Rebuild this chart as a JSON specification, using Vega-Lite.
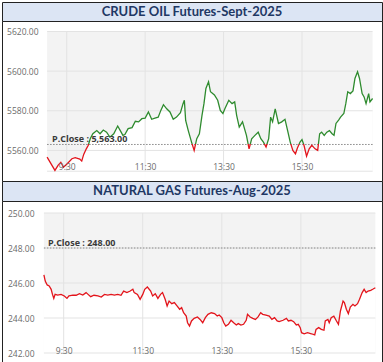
{
  "$schema": "https://vega.github.io/schema/vega-lite/v6.json",
  "padding": {"left": 1, "top": 1, "right": 1, "bottom": 0},
  "spacing": 0,
  "bounds": "flush",
  "background": "white",
  "config": {
    "view": {"stroke": null},
    "axis": {"grid": false, "ticks": false, "domain": false, "title": null, "labelFont": "Open Sans", "labelFontSize": 8.5, "labelColor": "#6b6b6b"},
    "concat": {"spacing": 0}
  },
  "datasets": {
    "crude": [
      {"t":"2025-08-01T09:00","p":5556.6},{"t":"2025-08-01T09:12","p":5549.9},{"t":"2025-08-01T09:17","p":5552.6},{"t":"2025-08-01T09:21","p":5554.0},{"t":"2025-08-01T09:25","p":5551.5},{"t":"2025-08-01T09:30","p":5553.0},{"t":"2025-08-01T09:38","p":5555.8},{"t":"2025-08-01T09:43","p":5556.3},{"t":"2025-08-01T09:50","p":5555.6},{"t":"2025-08-01T09:53","p":5554.6},{"t":"2025-08-01T09:56","p":5558.0},{"t":"2025-08-01T10:00","p":5560.8},{"t":"2025-08-01T10:03","p":5562.6},{"t":"2025-08-01T10:06","p":5565.9},{"t":"2025-08-01T10:10","p":5568.4},{"t":"2025-08-01T10:16","p":5570.0},{"t":"2025-08-01T10:21","p":5568.4},{"t":"2025-08-01T10:26","p":5570.3},{"t":"2025-08-01T10:31","p":5569.2},{"t":"2025-08-01T10:36","p":5566.7},{"t":"2025-08-01T10:42","p":5568.4},{"t":"2025-08-01T10:48","p":5572.3},{"t":"2025-08-01T10:52","p":5570.0},{"t":"2025-08-01T10:56","p":5567.6},{"t":"2025-08-01T10:59","p":5568.0},{"t":"2025-08-01T11:04","p":5571.0},{"t":"2025-08-01T11:10","p":5571.5},{"t":"2025-08-01T11:15","p":5574.7},{"t":"2025-08-01T11:20","p":5574.4},{"t":"2025-08-01T11:25","p":5576.0},{"t":"2025-08-01T11:30","p":5576.3},{"t":"2025-08-01T11:35","p":5579.4},{"t":"2025-08-01T11:40","p":5575.7},{"t":"2025-08-01T11:45","p":5576.3},{"t":"2025-08-01T11:50","p":5576.8},{"t":"2025-08-01T11:54","p":5580.2},{"t":"2025-08-01T11:58","p":5583.1},{"t":"2025-08-01T12:03","p":5581.0},{"t":"2025-08-01T12:08","p":5579.4},{"t":"2025-08-01T12:13","p":5575.7},{"t":"2025-08-01T12:18","p":5576.8},{"t":"2025-08-01T12:24","p":5579.0},{"t":"2025-08-01T12:28","p":5583.6},{"t":"2025-08-01T12:30","p":5585.3},{"t":"2025-08-01T12:32","p":5575.1},{"t":"2025-08-01T12:36","p":5570.0},{"t":"2025-08-01T12:41","p":5564.2},{"t":"2025-08-01T12:45","p":5560.0},{"t":"2025-08-01T12:49","p":5565.9},{"t":"2025-08-01T12:53","p":5568.4},{"t":"2025-08-01T12:57","p":5577.7},{"t":"2025-08-01T13:00","p":5583.6},{"t":"2025-08-01T13:03","p":5591.3},{"t":"2025-08-01T13:07","p":5594.6},{"t":"2025-08-01T13:10","p":5589.6},{"t":"2025-08-01T13:16","p":5588.0},{"t":"2025-08-01T13:21","p":5585.3},{"t":"2025-08-01T13:25","p":5580.2},{"t":"2025-08-01T13:29","p":5578.6},{"t":"2025-08-01T13:32","p":5581.0},{"t":"2025-08-01T13:38","p":5585.3},{"t":"2025-08-01T13:43","p":5583.6},{"t":"2025-08-01T13:47","p":5584.5},{"t":"2025-08-01T13:50","p":5577.7},{"t":"2025-08-01T13:54","p":5571.8},{"t":"2025-08-01T13:59","p":5574.4},{"t":"2025-08-01T14:05","p":5567.6},{"t":"2025-08-01T14:09","p":5560.8},{"t":"2025-08-01T14:13","p":5565.9},{"t":"2025-08-01T14:18","p":5567.6},{"t":"2025-08-01T14:23","p":5569.2},{"t":"2025-08-01T14:27","p":5565.9},{"t":"2025-08-01T14:31","p":5564.2},{"t":"2025-08-01T14:35","p":5561.7},{"t":"2025-08-01T14:39","p":5565.9},{"t":"2025-08-01T14:42","p":5576.8},{"t":"2025-08-01T14:45","p":5574.4},{"t":"2025-08-01T14:49","p":5581.0},{"t":"2025-08-01T14:54","p":5573.6},{"t":"2025-08-01T14:59","p":5574.4},{"t":"2025-08-01T15:04","p":5575.7},{"t":"2025-08-01T15:08","p":5570.0},{"t":"2025-08-01T15:12","p":5564.2},{"t":"2025-08-01T15:16","p":5560.0},{"t":"2025-08-01T15:20","p":5558.3},{"t":"2025-08-01T15:23","p":5561.2},{"t":"2025-08-01T15:27","p":5564.2},{"t":"2025-08-01T15:30","p":5565.5},{"t":"2025-08-01T15:33","p":5562.6},{"t":"2025-08-01T15:37","p":5557.1},{"t":"2025-08-01T15:41","p":5560.8},{"t":"2025-08-01T15:45","p":5562.6},{"t":"2025-08-01T15:50","p":5560.8},{"t":"2025-08-01T15:54","p":5560.0},{"t":"2025-08-01T15:57","p":5568.4},{"t":"2025-08-01T16:00","p":5569.2},{"t":"2025-08-01T16:04","p":5567.6},{"t":"2025-08-01T16:08","p":5569.2},{"t":"2025-08-01T16:12","p":5570.0},{"t":"2025-08-01T16:16","p":5568.4},{"t":"2025-08-01T16:19","p":5567.6},{"t":"2025-08-01T16:22","p":5573.6},{"t":"2025-08-01T16:26","p":5575.3},{"t":"2025-08-01T16:29","p":5576.8},{"t":"2025-08-01T16:34","p":5578.6},{"t":"2025-08-01T16:37","p":5583.6},{"t":"2025-08-01T16:40","p":5589.6},{"t":"2025-08-01T16:44","p":5588.7},{"t":"2025-08-01T16:48","p":5590.0},{"t":"2025-08-01T16:51","p":5596.3},{"t":"2025-08-01T16:55","p":5599.7},{"t":"2025-08-01T16:58","p":5596.3},{"t":"2025-08-01T17:02","p":5588.7},{"t":"2025-08-01T17:05","p":5587.0},{"t":"2025-08-01T17:08","p":5583.6},{"t":"2025-08-01T17:12","p":5588.7},{"t":"2025-08-01T17:14","p":5584.5},{"t":"2025-08-01T17:18","p":5586.2}
    ],
    "gas": [
      {"t":"2025-08-01T09:00","p":246.46},{"t":"2025-08-01T09:02","p":246.11},{"t":"2025-08-01T09:05","p":245.89},{"t":"2025-08-01T09:08","p":245.83},{"t":"2025-08-01T09:11","p":245.64},{"t":"2025-08-01T09:13","p":245.35},{"t":"2025-08-01T09:15","p":245.12},{"t":"2025-08-01T09:17","p":245.35},{"t":"2025-08-01T09:21","p":245.31},{"t":"2025-08-01T09:26","p":245.35},{"t":"2025-08-01T09:31","p":245.26},{"t":"2025-08-01T09:35","p":245.12},{"t":"2025-08-01T09:38","p":245.26},{"t":"2025-08-01T09:44","p":245.31},{"t":"2025-08-01T09:49","p":245.30},{"t":"2025-08-01T09:54","p":245.39},{"t":"2025-08-01T09:59","p":245.31},{"t":"2025-08-01T10:04","p":245.45},{"t":"2025-08-01T10:07","p":245.35},{"t":"2025-08-01T10:11","p":245.22},{"t":"2025-08-01T10:16","p":245.30},{"t":"2025-08-01T10:22","p":245.26},{"t":"2025-08-01T10:27","p":245.20},{"t":"2025-08-01T10:32","p":245.35},{"t":"2025-08-01T10:37","p":245.31},{"t":"2025-08-01T10:42","p":245.35},{"t":"2025-08-01T10:47","p":245.31},{"t":"2025-08-01T10:52","p":245.35},{"t":"2025-08-01T10:57","p":245.30},{"t":"2025-08-01T11:01","p":245.54},{"t":"2025-08-01T11:06","p":245.45},{"t":"2025-08-01T11:11","p":245.54},{"t":"2025-08-01T11:15","p":245.64},{"t":"2025-08-01T11:17","p":245.45},{"t":"2025-08-01T11:22","p":245.35},{"t":"2025-08-01T11:26","p":245.07},{"t":"2025-08-01T11:30","p":245.35},{"t":"2025-08-01T11:33","p":245.64},{"t":"2025-08-01T11:37","p":245.77},{"t":"2025-08-01T11:42","p":245.54},{"t":"2025-08-01T11:45","p":245.26},{"t":"2025-08-01T11:49","p":245.39},{"t":"2025-08-01T11:53","p":245.12},{"t":"2025-08-01T11:57","p":245.35},{"t":"2025-08-01T12:00","p":245.45},{"t":"2025-08-01T12:04","p":245.07},{"t":"2025-08-01T12:07","p":244.69},{"t":"2025-08-01T12:10","p":244.97},{"t":"2025-08-01T12:14","p":244.82},{"t":"2025-08-01T12:18","p":244.88},{"t":"2025-08-01T12:22","p":244.69},{"t":"2025-08-01T12:26","p":244.50},{"t":"2025-08-01T12:29","p":244.59},{"t":"2025-08-01T12:32","p":244.30},{"t":"2025-08-01T12:36","p":244.11},{"t":"2025-08-01T12:38","p":243.73},{"t":"2025-08-01T12:41","p":243.54},{"t":"2025-08-01T12:44","p":243.83},{"t":"2025-08-01T12:48","p":243.98},{"t":"2025-08-01T12:53","p":244.06},{"t":"2025-08-01T12:57","p":243.92},{"t":"2025-08-01T13:01","p":243.73},{"t":"2025-08-01T13:05","p":244.02},{"t":"2025-08-01T13:09","p":244.21},{"t":"2025-08-01T13:14","p":244.30},{"t":"2025-08-01T13:19","p":244.25},{"t":"2025-08-01T13:23","p":244.11},{"t":"2025-08-01T13:26","p":244.17},{"t":"2025-08-01T13:30","p":244.02},{"t":"2025-08-01T13:33","p":243.73},{"t":"2025-08-01T13:36","p":243.54},{"t":"2025-08-01T13:40","p":243.64},{"t":"2025-08-01T13:44","p":243.87},{"t":"2025-08-01T13:48","p":243.73},{"t":"2025-08-01T13:52","p":243.60},{"t":"2025-08-01T13:55","p":243.68},{"t":"2025-08-01T13:59","p":243.60},{"t":"2025-08-01T14:03","p":243.64},{"t":"2025-08-01T14:07","p":243.87},{"t":"2025-08-01T14:09","p":244.21},{"t":"2025-08-01T14:13","p":244.06},{"t":"2025-08-01T14:17","p":243.98},{"t":"2025-08-01T14:21","p":243.92},{"t":"2025-08-01T14:25","p":244.06},{"t":"2025-08-01T14:29","p":244.30},{"t":"2025-08-01T14:32","p":244.21},{"t":"2025-08-01T14:37","p":244.17},{"t":"2025-08-01T14:42","p":244.11},{"t":"2025-08-01T14:46","p":243.92},{"t":"2025-08-01T14:50","p":244.02},{"t":"2025-08-01T14:54","p":243.83},{"t":"2025-08-01T14:57","p":243.79},{"t":"2025-08-01T15:03","p":243.87},{"t":"2025-08-01T15:08","p":243.98},{"t":"2025-08-01T15:11","p":243.83},{"t":"2025-08-01T15:15","p":243.87},{"t":"2025-08-01T15:19","p":243.79},{"t":"2025-08-01T15:23","p":243.60},{"t":"2025-08-01T15:26","p":243.64},{"t":"2025-08-01T15:29","p":243.45},{"t":"2025-08-01T15:31","p":243.16},{"t":"2025-08-01T15:35","p":243.10},{"t":"2025-08-01T15:40","p":243.16},{"t":"2025-08-01T15:46","p":243.10},{"t":"2025-08-01T15:51","p":243.03},{"t":"2025-08-01T15:53","p":243.35},{"t":"2025-08-01T15:57","p":243.45},{"t":"2025-08-01T16:01","p":243.35},{"t":"2025-08-01T16:05","p":243.30},{"t":"2025-08-01T16:07","p":243.83},{"t":"2025-08-01T16:11","p":243.92},{"t":"2025-08-01T16:13","p":243.73},{"t":"2025-08-01T16:16","p":244.02},{"t":"2025-08-01T16:20","p":244.11},{"t":"2025-08-01T16:24","p":243.83},{"t":"2025-08-01T16:27","p":243.64},{"t":"2025-08-01T16:30","p":244.40},{"t":"2025-08-01T16:34","p":244.97},{"t":"2025-08-01T16:36","p":244.88},{"t":"2025-08-01T16:39","p":244.50},{"t":"2025-08-01T16:42","p":244.25},{"t":"2025-08-01T16:45","p":244.63},{"t":"2025-08-01T16:49","p":244.78},{"t":"2025-08-01T16:52","p":244.69},{"t":"2025-08-01T16:56","p":244.82},{"t":"2025-08-01T16:59","p":245.07},{"t":"2025-08-01T17:03","p":245.45},{"t":"2025-08-01T17:06","p":245.64},{"t":"2025-08-01T17:09","p":245.45},{"t":"2025-08-01T17:12","p":245.54},{"t":"2025-08-01T17:16","p":245.58},{"t":"2025-08-01T17:19","p":245.64},{"t":"2025-08-01T17:23","p":245.73}
    ],
    "crudeGridY": [{"v":5560},{"v":5580},{"v":5600},{"v":5620},{"v":5549.5}],
    "gasGridY": [{"v":242},{"v":244},{"v":246},{"v":248},{"v":250}],
    "gridX": [{"g":"2025-08-01T09:30"},{"g":"2025-08-01T11:30"},{"g":"2025-08-01T13:30"},{"g":"2025-08-01T15:30"}]
  },
  "vconcat": [
    {
      "width": 380, "height": 19,
      "view": {"fill": "#dce5f4", "stroke": "#222", "strokeWidth": 1},
      "data": {"values": [{"title": "CRUDE OIL Futures-Sept-2025"}]},
      "mark": {"type": "text", "font": "Lato", "fontWeight": "bold", "fontSize": 13, "color": "#1f3864", "baseline": "middle", "align": "center"},
      "encoding": {"text": {"field": "title"}}
    },
    {
      "width": 380, "height": 160,
      "view": {"fill": "white", "stroke": "#222", "strokeWidth": 1},
      "layer": [
        {
          "data": {"values": [{}]},
          "mark": {"type": "rect", "fill": "#f3f3f3"},
          "encoding": {
            "x": {"datum": {"year":2025,"month":8,"date":1,"hours":9,"minutes":0}, "type": "temporal",
              "scale": {"domain": [{"year":2025,"month":8,"date":1,"hours":7,"minutes":51,"seconds":0},{"year":2025,"month":8,"date":1,"hours":17,"minutes":32,"seconds":24}], "nice": false},
              "axis": {"values": [{"year":2025,"month":8,"date":1,"hours":9,"minutes":30},{"year":2025,"month":8,"date":1,"hours":11,"minutes":30},{"year":2025,"month":8,"date":1,"hours":13,"minutes":30},{"year":2025,"month":8,"date":1,"hours":15,"minutes":30}], "format": "%-H:%M", "offset": -20, "labelPadding": 1, "title": null, "zindex": 1, "labelFlush": false}},
            "x2": {"datum": {"year":2025,"month":8,"date":1,"hours":17,"minutes":18}},
            "y": {"datum": 5549.5, "type": "quantitative",
              "scale": {"domain": [5544.57, 5625.3], "nice": false, "zero": false},
              "axis": {"values": [5560, 5580, 5600, 5620], "format": ".2f", "offset": -38, "labelPadding": 2, "title": null, "zindex": 1}},
            "y2": {"datum": 5620}
          }
        },
        {
          "data": {"name": "crude"},
          "mark": {"type": "area", "fill": "white"},
          "encoding": {
            "x": {"field": "t", "type": "temporal"},
            "y": {"field": "p", "type": "quantitative"},
            "y2": {"datum": 5549.5}
          }
        },
        {
          "data": {"name": "crudeGridY"},
          "mark": {"type": "rule", "color": "#e3e3e3", "strokeWidth": 1},
          "encoding": {
            "y": {"field": "v", "type": "quantitative"},
            "x": {"datum": {"year":2025,"month":8,"date":1,"hours":9,"minutes":0}, "type": "temporal"},
            "x2": {"datum": {"year":2025,"month":8,"date":1,"hours":17,"minutes":18}}
          }
        },
        {
          "data": {"name": "gridX"},
          "mark": {"type": "rule", "color": "#e3e3e3", "strokeWidth": 1},
          "encoding": {
            "x": {"field": "g", "type": "temporal"},
            "y": {"datum": 5549.5, "type": "quantitative"},
            "y2": {"datum": 5620}
          }
        },
        {
          "data": {"values": [{}]},
          "mark": {"type": "rule", "color": "#888888", "strokeWidth": 1, "strokeDash": [1.5, 1.5]},
          "encoding": {
            "y": {"datum": 5563, "type": "quantitative"},
            "x": {"datum": {"year":2025,"month":8,"date":1,"hours":9,"minutes":0}, "type": "temporal"},
            "x2": {"datum": {"year":2025,"month":8,"date":1,"hours":17,"minutes":18}}
          }
        },
        {
          "data": {"name": "crude"},
          "mark": {"type": "line", "strokeWidth": 1.3,
            "stroke": {"gradient": "linear", "x1": 0, "y1": 0, "x2": 0, "y2": 1,
              "stops": [{"offset": 0, "color": "#2e8b2e"}, {"offset": 0.7369, "color": "#2e8b2e"}, {"offset": 0.7369, "color": "#e3141b"}, {"offset": 1, "color": "#e3141b"}]}},
          "encoding": {
            "x": {"field": "t", "type": "temporal"},
            "y": {"field": "p", "type": "quantitative"}
          }
        },
        {
          "data": {"values": [{"label": "P.Close : 5,563.00"}]},
          "mark": {"type": "text", "font": "Open Sans", "fontWeight": "bold", "fontSize": 9, "color": "#3a3a3a", "align": "left", "baseline": "alphabetic", "dx": 5, "dy": -2},
          "encoding": {
            "x": {"datum": {"year":2025,"month":8,"date":1,"hours":9,"minutes":0}, "type": "temporal"},
            "y": {"datum": 5563, "type": "quantitative"},
            "text": {"field": "label"}
          }
        }
      ]
    },
    {
      "width": 380, "height": 20,
      "view": {"fill": "#dce5f4", "stroke": "#222", "strokeWidth": 1},
      "data": {"values": [{"title": "NATURAL GAS Futures-Aug-2025"}]},
      "mark": {"type": "text", "font": "Lato", "fontWeight": "bold", "fontSize": 13, "color": "#1f3864", "baseline": "middle", "align": "center"},
      "encoding": {"text": {"field": "title"}}
    },
    {
      "width": 380, "height": 161,
      "view": {"fill": "white", "stroke": "#222", "strokeWidth": 1},
      "layer": [
        {
          "data": {"values": [{}]},
          "mark": {"type": "rect", "fill": "#f3f3f3"},
          "encoding": {
            "x": {"datum": {"year":2025,"month":8,"date":1,"hours":9,"minutes":0}, "type": "temporal",
              "scale": {"domain": [{"year":2025,"month":8,"date":1,"hours":7,"minutes":56,"seconds":24},{"year":2025,"month":8,"date":1,"hours":17,"minutes":33,"seconds":6}], "nice": false},
              "axis": {"values": [{"year":2025,"month":8,"date":1,"hours":9,"minutes":30},{"year":2025,"month":8,"date":1,"hours":11,"minutes":30},{"year":2025,"month":8,"date":1,"hours":13,"minutes":30},{"year":2025,"month":8,"date":1,"hours":15,"minutes":30}], "format": "%-H:%M", "offset": -17, "labelPadding": 1, "title": null, "zindex": 1, "labelFlush": false}},
            "x2": {"datum": {"year":2025,"month":8,"date":1,"hours":17,"minutes":23}},
            "y": {"datum": 242, "type": "quantitative",
              "scale": {"domain": [241.486, 250.686], "nice": false, "zero": false},
              "axis": {"values": [242, 244, 246, 248, 250], "format": ".2f", "offset": -34, "labelPadding": 2, "title": null, "zindex": 1}},
            "y2": {"datum": 250}
          }
        },
        {
          "data": {"name": "gas"},
          "mark": {"type": "area", "fill": "white"},
          "encoding": {
            "x": {"field": "t", "type": "temporal"},
            "y": {"field": "p", "type": "quantitative"},
            "y2": {"datum": 242}
          }
        },
        {
          "data": {"name": "gasGridY"},
          "mark": {"type": "rule", "color": "#e3e3e3", "strokeWidth": 1},
          "encoding": {
            "y": {"field": "v", "type": "quantitative"},
            "x": {"datum": {"year":2025,"month":8,"date":1,"hours":9,"minutes":0}, "type": "temporal"},
            "x2": {"datum": {"year":2025,"month":8,"date":1,"hours":17,"minutes":23}}
          }
        },
        {
          "data": {"name": "gridX"},
          "mark": {"type": "rule", "color": "#e3e3e3", "strokeWidth": 1},
          "encoding": {
            "x": {"field": "g", "type": "temporal"},
            "y": {"datum": 242, "type": "quantitative"},
            "y2": {"datum": 250}
          }
        },
        {
          "data": {"values": [{}]},
          "mark": {"type": "rule", "color": "#888888", "strokeWidth": 1, "strokeDash": [1.5, 1.5]},
          "encoding": {
            "y": {"datum": 248, "type": "quantitative"},
            "x": {"datum": {"year":2025,"month":8,"date":1,"hours":9,"minutes":0}, "type": "temporal"},
            "x2": {"datum": {"year":2025,"month":8,"date":1,"hours":17,"minutes":23}}
          }
        },
        {
          "data": {"name": "gas"},
          "mark": {"type": "line", "strokeWidth": 1.3, "color": "#e3141b"},
          "encoding": {
            "x": {"field": "t", "type": "temporal"},
            "y": {"field": "p", "type": "quantitative"}
          }
        },
        {
          "data": {"values": [{"label": "P.Close : 248.00"}]},
          "mark": {"type": "text", "font": "Open Sans", "fontWeight": "bold", "fontSize": 9, "color": "#3a3a3a", "align": "left", "baseline": "alphabetic", "dx": 4, "dy": -2},
          "encoding": {
            "x": {"datum": {"year":2025,"month":8,"date":1,"hours":9,"minutes":0}, "type": "temporal"},
            "y": {"datum": 248, "type": "quantitative"},
            "text": {"field": "label"}
          }
        }
      ]
    }
  ]
}
